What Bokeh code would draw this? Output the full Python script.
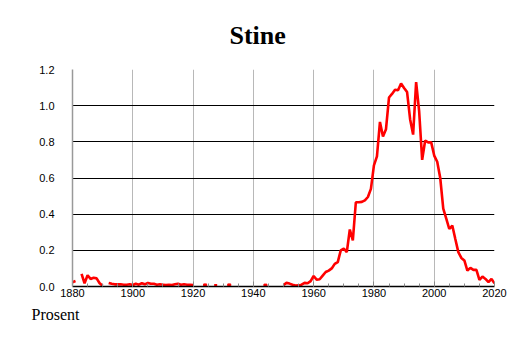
import math
from bokeh.plotting import figure
from bokeh.models import Range1d, FixedTicker, Title, CustomJSTickFormatter
from bokeh.embed import file_html
from bokeh.resources import INLINE

nan = float("nan")

years = list(range(1880, 2021))

share_1880_1949 = [
    0.024, 0.030, nan, 0.070, 0.018, 0.062, 0.042, 0.048, 0.045, 0.018,
    0.004, nan, 0.020, 0.015, 0.012, 0.012, 0.012, 0.010, 0.010, 0.012,
    0.008, 0.015, 0.010, 0.018, 0.012, 0.020, 0.015, 0.015, 0.010, 0.012,
    0.010, 0.008, 0.010, 0.008, 0.012, 0.015, 0.010, 0.012, 0.010, 0.010,
    0.008, nan, nan, nan, 0.006, nan, nan, 0.006, 0.006, nan,
    nan, nan, 0.006, nan, nan, nan, nan, nan, nan, nan,
    nan, nan, nan, nan, 0.005, nan, nan, nan, nan, nan,
]
share_1950_2020 = [
    0.008, 0.020, 0.016, 0.010, 0.005, 0.006, 0.010, 0.020, 0.018, 0.030,
    0.058, 0.038, 0.040, 0.060, 0.080, 0.088, 0.100, 0.125, 0.135, 0.200,
    0.210, 0.190, 0.315, 0.255, 0.466, 0.466, 0.468, 0.476, 0.495, 0.540,
    0.670, 0.720, 0.910, 0.830, 0.870, 1.045, 1.065, 1.088, 1.085, 1.123,
    1.098, 1.075, 0.925, 0.840, 1.130, 0.970, 0.700, 0.807, 0.797, 0.797,
    0.724, 0.690, 0.600, 0.430, 0.375, 0.318, 0.337, 0.263, 0.190, 0.158,
    0.144, 0.088, 0.103, 0.092, 0.092, 0.037, 0.055, 0.042, 0.024, 0.042,
    0.018,
]
share = share_1880_1949 + share_1950_2020

y_ticks = [0.0, 0.2, 0.4, 0.6, 0.8, 1.0, 1.2]
x_ticks = [1880, 1900, 1920, 1940, 1960, 1980, 2000, 2020]

# isolated points (no neighbours) are drawn as small dots
iso_x, iso_y = [], []
for i, v in enumerate(share):
    if math.isnan(v):
        continue
    prev_nan = i == 0 or math.isnan(share[i - 1])
    next_nan = i == len(share) - 1 or math.isnan(share[i + 1])
    if prev_nan and next_nan:
        iso_x.append(years[i])
        iso_y.append(v)

p = figure(width=514, height=343, output_backend="svg", toolbar_location=None,
           x_range=Range1d(1880, 2020), y_range=Range1d(0, 1.2),
           min_border_left=72, min_border_right=20, min_border_top=69,
           min_border_bottom=57)

p.title.text = "Stine"
p.title.text_font = "Liberation Serif"
p.title.text_font_size = "26px"
p.title.text_font_style = "bold"
p.title.text_color = "black"
p.title.align = "left"
p.title.vertical_align = "top"
p.title.offset = 157
p.title.standoff = 36

p.outline_line_color = None
p.background_fill_color = "white"
p.border_fill_color = "white"

p.line(years, share, line_color="#ff0000", line_width=2.6)
p.scatter(iso_x, iso_y, marker="square", size=3, color="#ff0000")

# grids
p.xgrid.ticker = FixedTicker(ticks=x_ticks)
p.xgrid.grid_line_color = "#b8b8b8"
p.xgrid.grid_line_width = 1
p.ygrid.ticker = FixedTicker(ticks=y_ticks)
p.ygrid.grid_line_color = "#000000"
p.ygrid.grid_line_width = 1

# x axis
xa = p.xaxis[0]
xa.ticker = FixedTicker(ticks=x_ticks, minor_ticks=list(range(1880, 2021, 5)))
xa.axis_line_color = "black"
xa.axis_line_width = 1.5
xa.major_tick_in = 5
xa.major_tick_out = 0
xa.minor_tick_in = 3
xa.minor_tick_out = 0
xa.major_tick_line_color = "#888888"
xa.minor_tick_line_color = "#888888"
xa.major_label_standoff = 2
xa.major_label_text_font = "Liberation Sans"
xa.major_label_text_font_size = "11px"
xa.major_label_text_color = "black"

# y axis
ya = p.yaxis[0]
ya.ticker = FixedTicker(ticks=y_ticks)
ya.formatter = CustomJSTickFormatter(code="return tick.toFixed(1);")
ya.axis_line_color = "#999999"
ya.axis_line_width = 1.5
ya.major_tick_line_color = None
ya.minor_tick_line_color = None
ya.major_label_standoff = 12
ya.major_label_text_font = "Liberation Sans"
ya.major_label_text_font_size = "11px"
ya.major_label_text_color = "black"

p.add_layout(Title(text="Prosent", text_font="Liberation Serif", text_font_size="16px",
                   text_font_style="normal", text_color="black", align="left",
                   offset=-41, standoff=8), "below")

open("out.html", "w").write(file_html(p, INLINE))
